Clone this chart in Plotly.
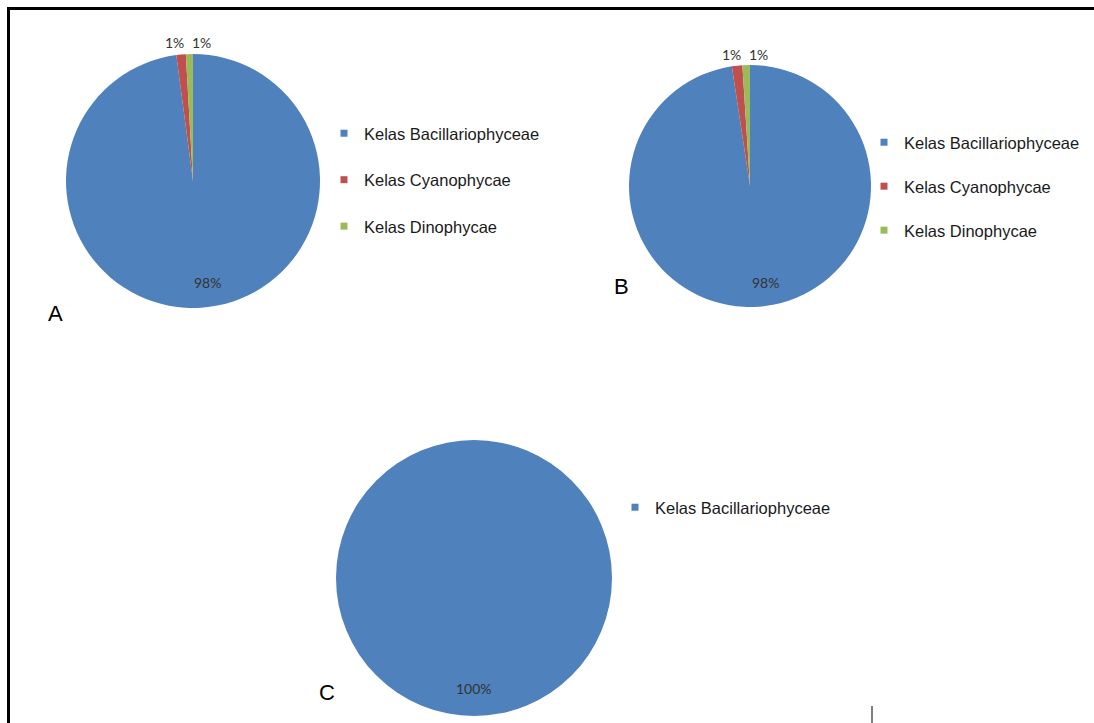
import math
import plotly.graph_objects as go

# ---- data ----
categories = ["Kelas Bacillariophyceae", "Kelas Cyanophycae", "Kelas Dinophycae"]
values_a = [97.9, 1.2, 0.9]
values_b = [97.6, 1.4, 1.0]
categories_c = ["Kelas Bacillariophyceae"]
values_c = [100]
panel_labels = ["A", "B", "C"]

colors = ["#4F81BD", "#C0504D", "#9BBB59"]

W, H = 1094, 723


def px(x):
    return x / W


def py(y):
    return 1 - y / H


def dom(cx, cy, r):
    return dict(x=[px(cx - r), px(cx + r)], y=[py(cy + r), py(cy - r)])


fig = go.Figure()

label_font = dict(family="Lato, Open Sans, sans-serif", size=14, color="#333333")

# (values, categories, centre x, centre y, radius) in pixels
pies = [
    (values_a, categories, 193, 181, 127),
    (values_b, categories, 750, 186, 121),
    (values_c, categories_c, 474, 578, 138),
]
for vals, cats, cx, cy, r in pies:
    n = len(vals)
    fig.add_trace(go.Pie(
        values=vals, labels=cats, domain=dom(cx, cy, r), sort=False, direction="clockwise",
        rotation=0, marker=dict(colors=colors[:n], line=dict(color="white", width=0)),
        textinfo="none", showlegend=False, hoverinfo="label+value+percent",
    ))
    # data labels, placed from the slice angles computed from the values
    total = sum(vals)
    cum = 0.0
    bounds = []
    for v in vals:
        start = cum
        cum += v
        bounds.append((start, cum))
    for i, v in enumerate(vals):
        start, end = bounds[i]
        pct = f"{round(100 * v / total):.0f}%"
        if i == 0:
            th = 2 * math.pi * (start + end) / 2 / total
            k = 0.8
            x = cx + k * r * math.sin(th) + (8 if n > 1 else 0)
            y = cy - k * r * math.cos(th)
            xa = "center"
        else:
            # outside labels of the small slices, side by side around their shared edge
            th = 2 * math.pi * bounds[1][1] / total
            k = 1.09
            x = cx + k * r * math.sin(th)
            y = cy - k * r * math.cos(th)
            if i == 1:
                x += 1
                xa = "right"
            else:
                x += 5
                xa = "left"
        fig.add_annotation(x=px(x), y=py(y), xref="paper", yref="paper", text=pct,
                           showarrow=False, xanchor=xa, yanchor="middle", font=label_font)

# legend proxies (one entry per category per panel)
legend_names = ["legend", "legend2", "legend3"]
legend_cats = [categories, categories, categories_c]
for lname, cats in zip(legend_names, legend_cats):
    for i, c in enumerate(cats):
        fig.add_trace(go.Scatter(
            x=[None], y=[None], mode="markers", name=c,
            marker=dict(symbol="square", size=7, color=colors[i]),
            legend=lname, legendgroup=f"{lname}_{i}", showlegend=True, hoverinfo="skip",
        ))

leg_font = dict(family="Liberation Sans, Arial, sans-serif", size=16.5, color="#1a1a1a")
leg_common = dict(font=leg_font, bgcolor="rgba(0,0,0,0)", borderwidth=0,
                  xanchor="left", yanchor="top", itemsizing="trace", itemwidth=30)

fig.update_layout(
    width=W, height=H,
    margin=dict(l=0, r=0, t=0, b=0),
    paper_bgcolor="white", plot_bgcolor="white",
    xaxis=dict(visible=False), yaxis=dict(visible=False),
    legend=dict(x=px(324), y=py(116), tracegroupgap=22, **leg_common),
    legend2=dict(x=px(864), y=py(125), tracegroupgap=19.5, **leg_common),
    legend3=dict(x=px(615), y=py(490), tracegroupgap=20, **leg_common),
)

# panel letters
letter_pos = [(55, 313), (621, 287), (327, 692)]
for lab, (x, y) in zip(panel_labels, letter_pos):
    fig.add_annotation(x=px(x), y=py(y), xref="paper", yref="paper", text=lab,
                       showarrow=False, xanchor="center", yanchor="middle",
                       font=dict(family="Liberation Sans, Arial, sans-serif", size=22, color="#000"))

# frame lines
fig.add_shape(type="line", xref="paper", yref="paper", x0=px(7), x1=1.0, y0=py(8.5), y1=py(8.5),
              line=dict(color="#000", width=3))
fig.add_shape(type="line", xref="paper", yref="paper", x0=px(8.5), x1=px(8.5), y0=py(7), y1=0,
              line=dict(color="#000", width=3))
fig.add_shape(type="line", xref="paper", yref="paper", x0=px(872), x1=px(872), y0=py(706), y1=0,
              line=dict(color="#000", width=1))

fig.write_html("out.html", config={"displayModeBar": False},
               post_script="document.body.style.margin='0';document.body.style.overflow='hidden';")
